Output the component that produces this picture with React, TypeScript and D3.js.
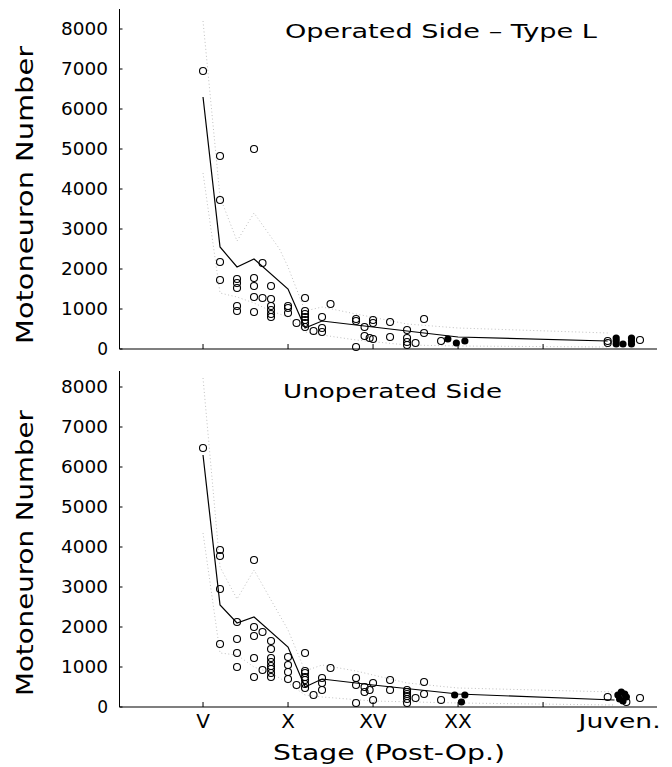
import React from "react";
import * as d3 from "d3";

// stage numbers on the x axis (V = 5, X = 10 ...), juveniles sit near 29-31
const stageTicks = [5, 10, 15, 20, 25];
const stageLabels = [
  { s: 5, t: "V" },
  { s: 10, t: "X" },
  { s: 15, t: "XV" },
  { s: 20, t: "XX" },
  { s: 29.5, t: "Juven." },
];
const yTicks = [0, 1000, 2000, 3000, 4000, 5000, 6000, 7000, 8000];

// Operated side - Type L
const opOpen: [number, number][] = [
  [5, 6950],
  [6, 4825], [6, 3725], [6, 2175], [6, 1725],
  [7, 1750], [7, 1650], [7, 1525], [7, 1075], [7, 950],
  [8, 5000], [8, 1775], [8, 1575], [8, 1300], [8, 925],
  [8.5, 2150], [8.5, 1275],
  [9, 1575], [9, 1250], [9, 1075], [9, 975], [9, 875], [9, 800],
  [10, 1075], [10, 1025], [10, 900],
  [10.5, 650],
  [11, 1275], [11, 950], [11, 875], [11, 800], [11, 725], [11, 650], [11, 550],
  [11.5, 450],
  [12, 800], [12, 525], [12, 425],
  [12.5, 1125],
  [14, 750], [14, 700], [14, 50],
  [14.5, 550], [14.5, 325],
  [14.8, 275],
  [15, 725], [15, 650], [15, 250],
  [16, 675], [16, 300],
  [17, 475], [17, 275], [17, 175], [17, 100],
  [17.5, 150],
  [18, 750], [18, 400],
  [19, 200],
  [28.8, 200], [28.8, 150],
  [30.7, 225],
];
const opFilled: [number, number][] = [
  [19.4, 250], [19.9, 150], [20.4, 200],
  [29.3, 275], [29.3, 200], [29.3, 125], [29.7, 125], [30.2, 275], [30.2, 200], [30.2, 125],
];
const opMean: [number, number][] = [
  [5, 6300], [6, 2550], [7, 2050], [8, 2250], [10, 1500], [11, 525],
  [12, 700], [15, 550], [20, 300], [28.8, 200],
];
const opUpper: [number, number][] = [
  [5, 8200], [6, 3800], [7, 2700], [8, 3400], [9.5, 2500], [10, 2050],
  [11, 950], [12, 1050], [14, 875], [17, 625], [20, 525], [28.8, 400],
];
const opLower: [number, number][] = [
  [5, 4400], [6, 1400], [7, 1300], [8, 1150], [9, 950], [10, 800],
  [11, 425], [12, 350], [14, 225], [17, 100], [20, 75], [28.8, 50],
];

// Unoperated side
const unOpen: [number, number][] = [
  [5, 6475],
  [6, 3925], [6, 3775], [6, 2950], [6, 1575],
  [7, 2125], [7, 1700], [7, 1350], [7, 1000],
  [8, 3675], [8, 2000], [8, 1775], [8, 1225], [8, 750],
  [8.5, 1875], [8.5, 925],
  [9, 1650], [9, 1450], [9, 1225], [9, 1125], [9, 1025], [9, 950], [9, 850], [9, 750],
  [10, 1250], [10, 1050], [10, 875], [10, 700],
  [10.5, 550],
  [11, 1350], [11, 900], [11, 850], [11, 750], [11, 675], [11, 575], [11, 475],
  [11.5, 300],
  [12, 725], [12, 600], [12, 425],
  [12.5, 975],
  [14, 725], [14, 550], [14, 100],
  [14.5, 500], [14.5, 375],
  [14.8, 425],
  [15, 600], [15, 175],
  [16, 675], [16, 425],
  [17, 425], [17, 375], [17, 325], [17, 275], [17, 200], [17, 100],
  [17.5, 225],
  [18, 625], [18, 325],
  [19, 175],
  [28.8, 250], [29.9, 125], [30.7, 225],
];
const unFilled: [number, number][] = [
  [19.8, 300], [20.4, 300], [20.2, 125],
  [29.4, 300], [29.6, 375], [29.8, 325], [29.9, 250], [29.5, 200], [29.7, 150],
];
const unMean: [number, number][] = [
  [5, 6300], [6, 2550], [7, 2100], [8, 2250], [10, 1500], [11, 500],
  [12, 700], [15, 550], [20, 325], [29.2, 175],
];
const unUpper: [number, number][] = [
  [5, 8225], [6, 3500], [7, 2700], [8, 3425], [10, 1925], [11, 900],
  [12, 1050], [14, 900], [17, 600], [20, 475], [29.2, 375],
];
const unLower: [number, number][] = [
  [5, 4350], [6, 1350], [7, 1300], [8, 1000], [9, 850], [10, 600],
  [11, 300], [12, 250], [15, 150], [20, 100], [29.2, 50],
];

const FONT = "'DejaVu Sans', sans-serif";
const x = d3.scaleLinear().domain([0, 31.7]).range([118, 657]);

type PanelProps = {
  yBottom: number;
  yTop: number;
  yMax: number;
  title: string;
  titleX: number;
  titleY: number;
  titleLen: number;
  labelLen: number;
  open: [number, number][];
  filled: [number, number][];
  mean: [number, number][];
  upper: [number, number][];
  lower: [number, number][];
  showXLabels: boolean;
};

function Panel(p: PanelProps) {
  const y = d3.scaleLinear().domain([0, p.yMax]).range([p.yBottom, p.yTop]);
  const line = d3
    .line<[number, number]>()
    .x((d) => x(d[0]))
    .y((d) => y(d[1]));
  const axisX = 119.5;
  const midY = (p.yBottom + y(8000)) / 2 + 6;
  return (
    <g>
      {/* spread lines */}
      <path d={line(p.upper) || ""} fill="none" stroke="#b0b0b0" strokeWidth={0.8} strokeDasharray="1,2.5" />
      <path d={line(p.lower) || ""} fill="none" stroke="#b0b0b0" strokeWidth={0.8} strokeDasharray="1,2.5" />
      <path d={line(p.mean) || ""} fill="none" stroke="#000" strokeWidth={1.2} />

      {p.open.map((d, i) => (
        <circle key={"o" + i} cx={x(d[0])} cy={y(d[1])} r={3.5} fill="none" stroke="#000" strokeWidth={1.1} />
      ))}
      {p.filled.map((d, i) => (
        <circle key={"f" + i} cx={x(d[0])} cy={y(d[1])} r={3.6} fill="#000" />
      ))}

      {/* axes */}
      <line x1={axisX} x2={axisX} y1={p.yTop} y2={p.yBottom} stroke="#000" strokeWidth={1} />
      <line x1={axisX} x2={x(31.7)} y1={p.yBottom} y2={p.yBottom} stroke="#000" strokeWidth={1.2} />
      {yTicks.map((t) => (
        <g key={t}>
          <line x1={axisX} x2={axisX + 3} y1={y(t)} y2={y(t)} stroke="#000" />
          <text
            x={108}
            y={y(t)}
            textAnchor="end"
            dominantBaseline="central"
            fontFamily={FONT}
            fontSize={17}
            textLength={t === 0 ? undefined : 47}
            lengthAdjust="spacingAndGlyphs"
          >
            {t}
          </text>
        </g>
      ))}
      {stageTicks.map((s) => (
        <line key={s} x1={x(s)} x2={x(s)} y1={p.yBottom} y2={p.yBottom - 5} stroke="#000" />
      ))}
      {p.showXLabels &&
        stageLabels.map((l) => (
          <text
            key={l.t}
            x={x(l.s)}
            y={728}
            textAnchor="middle"
            fontFamily={FONT}
            fontSize={20}
            textLength={l.t === "Juven." ? 82 : undefined}
            lengthAdjust="spacingAndGlyphs"
          >
            {l.t}
          </text>
        ))}

      <text
        transform={`translate(33,${midY}) rotate(-90)`}
        textAnchor="middle"
        fontFamily={FONT}
        fontSize={23}
        textLength={p.labelLen}
        lengthAdjust="spacingAndGlyphs"
      >
        Motoneuron Number
      </text>
      <text
        x={p.titleX}
        y={p.titleY}
        fontFamily={FONT}
        fontSize={19}
        textLength={p.titleLen}
        lengthAdjust="spacingAndGlyphs"
      >
        {p.title}
      </text>
    </g>
  );
}

export default function App() {
  return (
    <svg width={672} height={767} style={{ display: "block", position: "absolute", left: 0, top: 0, background: "#fff" }}>
      <rect width={672} height={767} fill="#fff" />
      <Panel
        yBottom={349}
        yTop={9}
        yMax={8500}
        title="Operated Side – Type L"
        titleX={285}
        titleY={38}
        titleLen={312}
        labelLen={298}
        open={opOpen}
        filled={opFilled}
        mean={opMean}
        upper={opUpper}
        lower={opLower}
        showXLabels={false}
      />
      <Panel
        yBottom={707}
        yTop={371}
        yMax={8400}
        title="Unoperated Side"
        titleX={283}
        titleY={398}
        titleLen={219}
        labelLen={286}
        open={unOpen}
        filled={unFilled}
        mean={unMean}
        upper={unUpper}
        lower={unLower}
        showXLabels={true}
      />
      <text x={273} y={760} fontFamily={FONT} fontSize={22} textLength={232} lengthAdjust="spacingAndGlyphs">
        Stage (Post-Op.)
      </text>
    </svg>
  );
}
